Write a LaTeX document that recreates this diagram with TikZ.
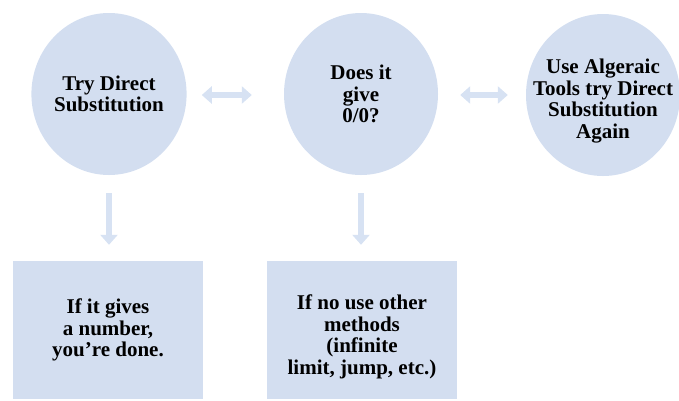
\documentclass[tikz,border=0pt]{standalone}
\usepackage{fontspec}
\setmainfont{Liberation Serif}
\usepackage{tikz}
\usetikzlibrary{positioning, shapes, arrows.meta, calc}

\definecolor{stepblue}{HTML}{D3DEF0}
\definecolor{arrowblue}{HTML}{D7E2F3}

\tikzset{
  stagetext/.style={align=center, inner sep=0pt, font=\bfseries\fontsize{21}{21.5}\selectfont},
  stagecircle/.style={ellipse, fill=stepblue, minimum width=154pt, minimum height=162pt, inner sep=-20pt, stagetext},
  stagebox/.style={rectangle, fill=stepblue, minimum width=190pt, minimum height=138pt, stagetext},
  flowarrow/.style={draw=arrowblue, line width=5.5pt, {Triangle[width=17pt, length=10pt]}-{Triangle[width=17pt, length=10pt]}},
  downarrow/.style={draw=arrowblue, line width=6pt, -{Triangle[width=17pt, length=10pt]}}
}

\begin{document}
\begin{tikzpicture}[x=1pt, y=-1pt]
                  \useasboundingbox (0,0) rectangle (679,400);
                  % Nodes
                  \node[stagecircle] (try) at (109,94) {Try Direct\\Substitution};
                  \node[stagecircle] (zero) at (361,94) {Does it\\give\\0/0?};
                  \node[stagecircle] (algebra) at (603,95) {};
                  \node[stagetext] (algebratext) at ([yshift=-6pt]algebra.center) {Use Algeraic\\Tools try Direct\\Substitution\\Again};
                  \node[stagebox] (number) at (108,330) {If it gives\\a number,\\you’re done.};
                  \node[stagebox] (other) at (362,330) {};
                  \node[stagetext] (othertext) at ([yshift=-7pt]other.center) {If no use other\\methods\\(infinite\\limit, jump, etc.)};

                  % Arrows
                  \draw[flowarrow, shorten <=15pt, shorten >=32pt] ($(try.east)+(0,1)$) -- ($(zero.west)+(0,1)$);
                  \draw[flowarrow, shorten <=22pt, shorten >=18pt] ($(zero.east)+(0,1)$) -- ($(algebra.west)+(0,0)$);
                  \foreach \a/\b in {try/number, zero/other}
                  \draw[downarrow, shorten <=18pt, shorten >=16pt] (\a.south) -- (\a.south |- \b.north);
              \end{tikzpicture}
\end{document}
